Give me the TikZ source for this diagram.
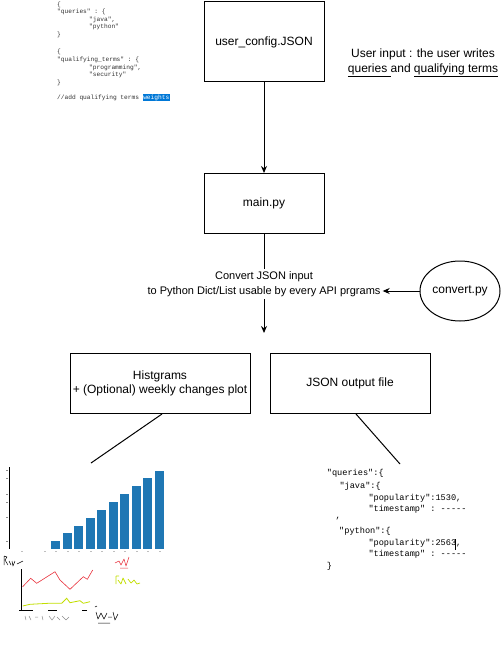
\documentclass[tikz,border=0pt]{standalone}
\usepackage{fontspec}
\setmainfont{Liberation Sans}
\setmonofont{Liberation Mono}
\usetikzlibrary{arrows.meta,shapes.geometric,calc}
\definecolor{barblue}{HTML}{1F77B4}
\definecolor{selblue}{HTML}{0078D7}
\definecolor{plotred}{HTML}{E8303A}
\definecolor{plotyg}{HTML}{C2DE00}
\begin{document}
\begin{tikzpicture}[x=1pt,y=-1pt,
  box/.style={draw=black,line width=1pt,minimum width=120pt,minimum height=60pt,inner sep=0pt,align=center,font=\fontsize{12}{14}\selectfont},
  flow/.style={line width=1pt,-{Stealth[length=7pt,width=6pt]}},
  plain/.style={line width=1pt},
  code/.style={anchor=west,inner sep=0pt,font=\ttfamily\fontsize{6.2}{7}\selectfont,text=black!80},
  jcode/.style={anchor=west,inner sep=0pt,font=\ttfamily\fontsize{8.6}{10}\selectfont},
  scrib/.style={line width=0.5pt,line join=round}]
\useasboundingbox (0,0) rectangle (501,655);

% ---- boxes
\node[box,minimum height=80pt] (cfg) at (264,42) {user\_config.JSON};
\node[box] (main) at (264,203.5) {main.py};
\node[box,minimum width=180pt] (hist) at (160,383.5) {Histgrams\\+ (Optional) weekly changes plot};
\node[box,minimum width=160pt] (json) at (350,383.5) {JSON output file};
\node[draw,ellipse,line width=1pt,minimum width=80pt,minimum height=60pt,inner sep=0pt,font=\fontsize{12}{14}\selectfont] (convert) at (460,291) {convert.py};

\node[align=center,inner sep=0pt,font=\fontsize{12}{14.5}\selectfont] (note) at (423,63)
  {User input : the user writes\\\underline{queries\ }and \underline{qualifying terms}};

% ---- connectors
\draw[flow] (cfg) -- (main);
\coordinate (down) at (264,333);
\draw[flow] (main) -- (down);
\node[fill=white,align=center,inner sep=2pt,font=\fontsize{11}{15.5}\selectfont] (conv) at (264,284)
  {Convert JSON input\\to Python Dict/List usable by every API prgrams};
\draw[flow] (convert.west) -- (convert.west -| conv.east);

\coordinate (histimg) at (91,463);
\coordinate (jsonimg) at (400,464);
\draw[plain] ([xshift=2pt]hist.south) -- (histimg);
\draw[plain] ([xshift=6pt]json.south) -- (jsonimg);

% ---- input code snippet (top left)
\node[code] (c1) at (57,5) {\{};
\node[code] (c2) at (57,12) {"queries" : \{};
\node[code] (c3) at (89,19.5) {"java",};
\node[code] (c4) at (89,27) {"python"};
\node[code] (c5) at (57,35) {\}};
\node[code] (c6) at (57,52) {\{};
\node[code] (c7) at (57,59.5) {"qualifying\_terms" : \{};
\node[code] (c8) at (89,67.5) {"programming",};
\node[code] (c9) at (89,75) {"security"};
\node[code] (c10) at (57,82.5) {\}};
\node[code] (c11) at (57,97.5) {//add qualifying terms};
\node[code,fill=selblue,text=white,inner xsep=0.4pt,inner ysep=1pt] (c12) at ([xshift=3.4pt]c11.east) {weights};

% ---- JSON output snippet
\node[jcode] (j1) at (326.7,473.3) {"queries":\{};
\node[jcode] (j2) at (339.3,486) {"java":\{};
\node[jcode] (j3) at (368.3,498.3) {"popularity":1530,};
\node[jcode] (j4) at (368.3,509.3) {"timestamp" : -----};
\node[jcode] (j5) at (335.5,518.5) {,};
\node[jcode] (j6) at (339,531.7) {"python":\{};
\node[jcode] (j7) at (368.3,543.3) {"popularity":2563,};
\node[jcode] (j8) at (368.3,554) {"timestamp" : -----};
\node[jcode] (j9) at (326.7,566.7) {\}};
\draw[line width=0.7pt] (j7.north east) ++(-5.9,0.3) -- ++(0,10.5);

% ---- histogram image
\foreach \x/\t in {51/540.7, 62.8/532.7, 74/526, 86/518, 97/510, 109/502, 120/494, 131.7/486, 143/478.3, 155/471}
  \fill[barblue] (\x,\t) rectangle (\x+9,548.7);
\draw[line width=1pt] (9.3,467) -- (9.3,549);
\foreach \y in {470,478,494,502,517,541}
  \draw[black!45,line width=0.6pt] (6,\y) -- (8,\y);
\foreach \x in {21,44,55,67,78,90,101,113,124,136,147,159}
  \fill[black!25] (\x,550.5) rectangle ++(2,1);

% ---- weekly changes plot image
\draw[line width=0.8pt] (21.7,569) -- (21.7,610);
\draw[line width=1pt] (19,610) -- (33,610);
\draw[line width=1pt] (48,610) -- (57,610);
\draw[line width=1pt] (82,610) -- (87,610);
\draw[plotred,line width=0.6pt] (22.7,586.7) -- (30.7,578.3) -- (36.7,583.3) -- (55,571.7) -- (60,580) -- (70,589.3) -- (83.3,576.7) -- (87.3,579.3) -- (92.7,570);
\draw[plotyg,line width=0.8pt] (22.7,606) -- (30,604.3) -- (48.3,603.3) -- (61.7,603.3) -- (66.7,598.3) -- (70,602.7) -- (80,600.7) -- (83.3,603.3) -- (90,601.7);
% axis label scribble
\draw[scrib] (4,556) -- (4,565) (4,556) -- (7,557) -- (5,560) -- (8,565) (9,561) -- (11,565) (12,561) -- (13,566) -- (15,561) (17,564) -- (23,561);
% legend scribbles
\draw[scrib,plotred] (115,563) -- (119,561) -- (121,565) -- (124,559) -- (126,566) -- (129,557) (120,568) -- (128,568);
\draw[scrib,plotyg,line width=0.7pt] (116,576) -- (116,584) (116,576) -- (119,576) (118,580) -- (121,584) -- (123,578) -- (126,584) (128,579) -- (131,583) -- (134,580) -- (137,584) -- (140,583);
% tick label scribbles
\draw[scrib,black!45] (25,616) -- (26,620) (29,616) -- (31,620) (35,617) -- (38,617) (42,616) -- (43,620) (49,616) -- (52,620) -- (55,616) (57,617) -- (60,620) (62,616) -- (66,620) -- (69,617);
\draw[scrib] (96,612) -- (98,619) -- (101,613) -- (104,619) -- (107,613) (108,617) -- (112,617) (113,612) -- (115,620) -- (118,614) (98,623) -- (110,623) (95,607) -- (97,606);
\end{tikzpicture}
\end{document}
